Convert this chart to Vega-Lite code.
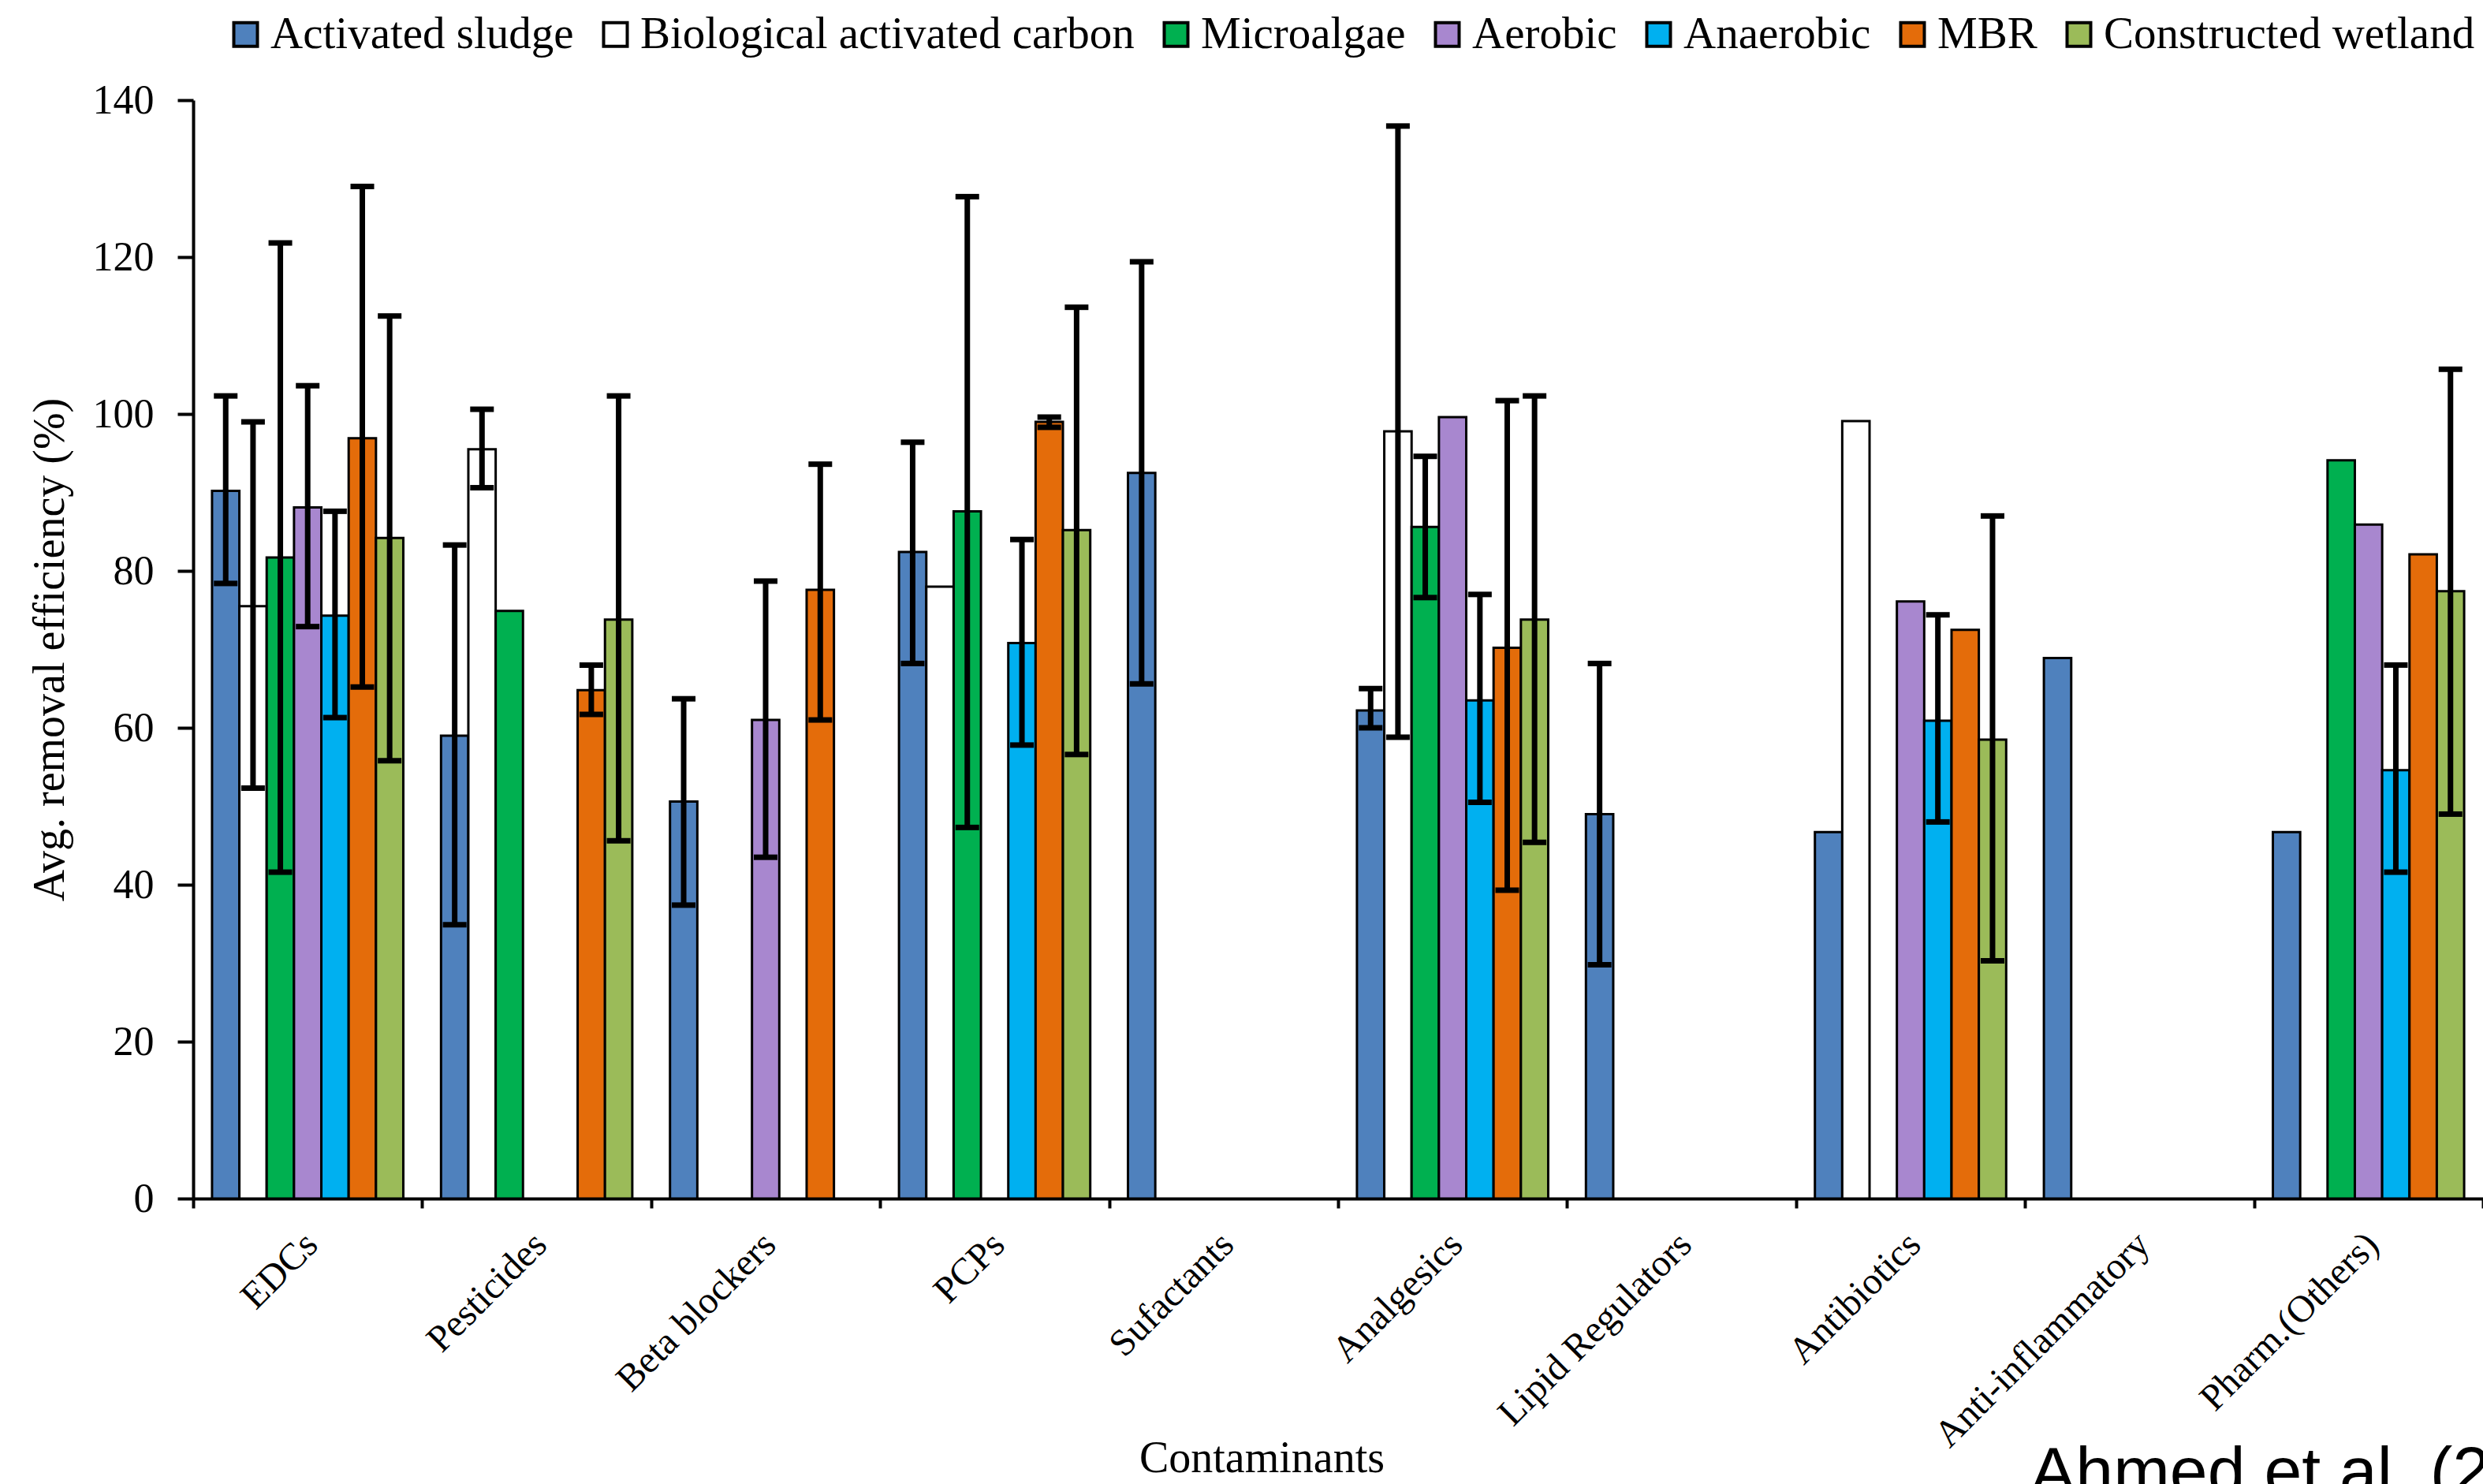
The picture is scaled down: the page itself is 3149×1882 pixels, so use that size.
{
  "$schema": "https://vega.github.io/schema/vega-lite/v6.json",
  "autosize": "none",
  "width": 2904,
  "height": 1393,
  "padding": {"left": 245, "top": 127, "right": 0, "bottom": 362},
  "background": "white",
  "config": {"view": {"stroke": null}, "font": "Liberation Serif"},
  "title": {"text": "Ahmed et al. (2017)", "orient": "bottom", "anchor": "start", "frame": "group", "offset": -50, "dx": 2330, "font": "Liberation Sans", "fontSize": 86, "fontWeight": "normal", "color": "black", "baseline": "top"},
  "data": {"values": [
    {"c": "EDCs", "s": "Activated sludge", "v": 90.2, "lo": 78.4, "hi": 102.3},
    {"c": "EDCs", "s": "Biological activated carbon", "v": 75.5, "lo": 52.3, "hi": 99.0},
    {"c": "EDCs", "s": "Microalgae", "v": 81.7, "lo": 41.6, "hi": 121.8},
    {"c": "EDCs", "s": "Aerobic", "v": 88.1, "lo": 72.9, "hi": 103.6},
    {"c": "EDCs", "s": "Anaerobic", "v": 74.3, "lo": 61.3, "hi": 87.6},
    {"c": "EDCs", "s": "MBR", "v": 96.9, "lo": 65.2, "hi": 129.0},
    {"c": "EDCs", "s": "Constructed wetland", "v": 84.2, "lo": 55.8, "hi": 112.5},
    {"c": "Pesticides", "s": "Activated sludge", "v": 59.0, "lo": 34.9, "hi": 83.3},
    {"c": "Pesticides", "s": "Biological activated carbon", "v": 95.5, "lo": 90.6, "hi": 100.6},
    {"c": "Pesticides", "s": "Microalgae", "v": 74.9},
    {"c": "Pesticides", "s": "MBR", "v": 64.8, "lo": 61.7, "hi": 68.0},
    {"c": "Pesticides", "s": "Constructed wetland", "v": 73.8, "lo": 45.6, "hi": 102.3},
    {"c": "Beta blockers", "s": "Activated sludge", "v": 50.6, "lo": 37.4, "hi": 63.7},
    {"c": "Beta blockers", "s": "Aerobic", "v": 61.0, "lo": 43.5, "hi": 78.7},
    {"c": "Beta blockers", "s": "MBR", "v": 77.6, "lo": 61.0, "hi": 93.6},
    {"c": "PCPs", "s": "Activated sludge", "v": 82.4, "lo": 68.2, "hi": 96.4},
    {"c": "PCPs", "s": "Biological activated carbon", "v": 78.0},
    {"c": "PCPs", "s": "Microalgae", "v": 87.6, "lo": 47.3, "hi": 127.7},
    {"c": "PCPs", "s": "Anaerobic", "v": 70.8, "lo": 57.8, "hi": 84.0},
    {"c": "PCPs", "s": "MBR", "v": 99.0, "lo": 98.3, "hi": 99.6},
    {"c": "PCPs", "s": "Constructed wetland", "v": 85.2, "lo": 56.6, "hi": 113.6},
    {"c": "Sufactants", "s": "Activated sludge", "v": 92.5, "lo": 65.6, "hi": 119.4},
    {"c": "Analgesics", "s": "Activated sludge", "v": 62.2, "lo": 60.0, "hi": 65.0},
    {"c": "Analgesics", "s": "Biological activated carbon", "v": 97.8, "lo": 58.8, "hi": 136.7},
    {"c": "Analgesics", "s": "Microalgae", "v": 85.6, "lo": 76.6, "hi": 94.6},
    {"c": "Analgesics", "s": "Aerobic", "v": 99.6},
    {"c": "Analgesics", "s": "Anaerobic", "v": 63.5, "lo": 50.5, "hi": 77.0},
    {"c": "Analgesics", "s": "MBR", "v": 70.2, "lo": 39.3, "hi": 101.7},
    {"c": "Analgesics", "s": "Constructed wetland", "v": 73.8, "lo": 45.4, "hi": 102.3},
    {"c": "Lipid Regulators", "s": "Activated sludge", "v": 49.0, "lo": 29.8, "hi": 68.2},
    {"c": "Antibiotics", "s": "Activated sludge", "v": 46.7},
    {"c": "Antibiotics", "s": "Biological activated carbon", "v": 99.1},
    {"c": "Antibiotics", "s": "Aerobic", "v": 76.1},
    {"c": "Antibiotics", "s": "Anaerobic", "v": 60.9, "lo": 48.0, "hi": 74.4},
    {"c": "Antibiotics", "s": "MBR", "v": 72.5},
    {"c": "Antibiotics", "s": "Constructed wetland", "v": 58.5, "lo": 30.3, "hi": 87.0},
    {"c": "Anti-inflammatory", "s": "Activated sludge", "v": 68.9},
    {"c": "Pharm.(Others)", "s": "Activated sludge", "v": 46.7},
    {"c": "Pharm.(Others)", "s": "Microalgae", "v": 94.1},
    {"c": "Pharm.(Others)", "s": "Aerobic", "v": 85.9},
    {"c": "Pharm.(Others)", "s": "Anaerobic", "v": 54.6, "lo": 41.6, "hi": 68.0},
    {"c": "Pharm.(Others)", "s": "MBR", "v": 82.1},
    {"c": "Pharm.(Others)", "s": "Constructed wetland", "v": 77.4, "lo": 49.0, "hi": 105.7}
  ]},
  "encoding": {
    "x": {
      "field": "c", "type": "nominal",
      "sort": ["EDCs", "Pesticides", "Beta blockers", "PCPs", "Sufactants", "Analgesics", "Lipid Regulators", "Antibiotics", "Anti-inflammatory", "Pharm.(Others)"],
      "scale": {"paddingInner": 0, "paddingOuter": 0},
      "axis": {
        "title": "Contaminants", "titleFont": "Liberation Serif", "titleFontSize": 56, "titleFontWeight": "normal", "titleColor": "black",
        "titleX": 1355, "titleY": 329, "titleBaseline": "middle", "titleAlign": "center",
        "labelAngle": -45, "labelAlign": "right", "labelBaseline": "top", "labelFont": "Liberation Serif", "labelFontSize": 48, "labelColor": "black",
        "labelPadding": 22, "labelOffset": -12, "labelLimit": 0, "labelOverlap": false,
        "tickBand": "extent", "tickSize": 12, "tickWidth": 4, "tickColor": "black",
        "domainColor": "black", "domainWidth": 4, "grid": false
      }
    },
    "xOffset": {
      "field": "s", "type": "nominal",
      "scale": {"domain": ["Activated sludge", "Biological activated carbon", "Microalgae", "Aerobic", "Anaerobic", "MBR", "Constructed wetland"], "paddingInner": 0, "paddingOuter": 0.69}
    }
  },
  "layer": [
    {
      "mark": {"type": "bar", "stroke": "black", "strokeWidth": 3},
      "encoding": {
        "y": {
          "field": "v", "type": "quantitative",
          "scale": {"domain": [0, 140], "nice": false},
          "axis": {
            "title": "Avg. removal efficiency (%)", "titleFont": "Liberation Serif", "titleFontSize": 56, "titleFontWeight": "normal", "titleColor": "black", "titlePadding": 25,
            "values": [0, 20, 40, 60, 80, 100, 120, 140],
            "labelFont": "Liberation Serif", "labelFontSize": 52, "labelColor": "black", "labelPadding": 30,
            "tickSize": 20, "tickWidth": 4, "tickColor": "black",
            "domainColor": "black", "domainWidth": 4, "grid": false
          }
        },
        "fill": {
          "field": "s", "type": "nominal",
          "scale": {
            "domain": ["Activated sludge", "Biological activated carbon", "Microalgae", "Aerobic", "Anaerobic", "MBR", "Constructed wetland"],
            "range": ["#4F81BD", "#FFFFFF", "#00B050", "#A887CF", "#00B0F0", "#E46C0A", "#9BBB59"]
          },
          "legend": {
            "orient": "none", "legendX": 38, "legendY": -112, "direction": "horizontal", "columns": 7, "title": null,
            "symbolType": "square", "symbolSize": 900, "symbolStrokeColor": "black", "symbolStrokeWidth": 4, "symbolOpacity": 1,
            "labelFont": "Liberation Serif", "labelFontSize": 57, "labelColor": "black", "labelLimit": 0, "labelOffset": 3,
            "columnPadding": 24, "padding": 0
          }
        }
      }
    },
    {
      "transform": [{"filter": "isValid(datum.lo)"}],
      "mark": {"type": "rule", "color": "black", "strokeWidth": 7},
      "encoding": {
        "y": {"field": "lo", "type": "quantitative"},
        "y2": {"field": "hi"}
      }
    },
    {
      "transform": [{"filter": "isValid(datum.lo)"}],
      "mark": {"type": "tick", "color": "black", "thickness": 7, "size": 30, "opacity": 1},
      "encoding": {"y": {"field": "lo", "type": "quantitative"}}
    },
    {
      "transform": [{"filter": "isValid(datum.hi)"}],
      "mark": {"type": "tick", "color": "black", "thickness": 7, "size": 30, "opacity": 1},
      "encoding": {"y": {"field": "hi", "type": "quantitative"}}
    }
  ]
}
